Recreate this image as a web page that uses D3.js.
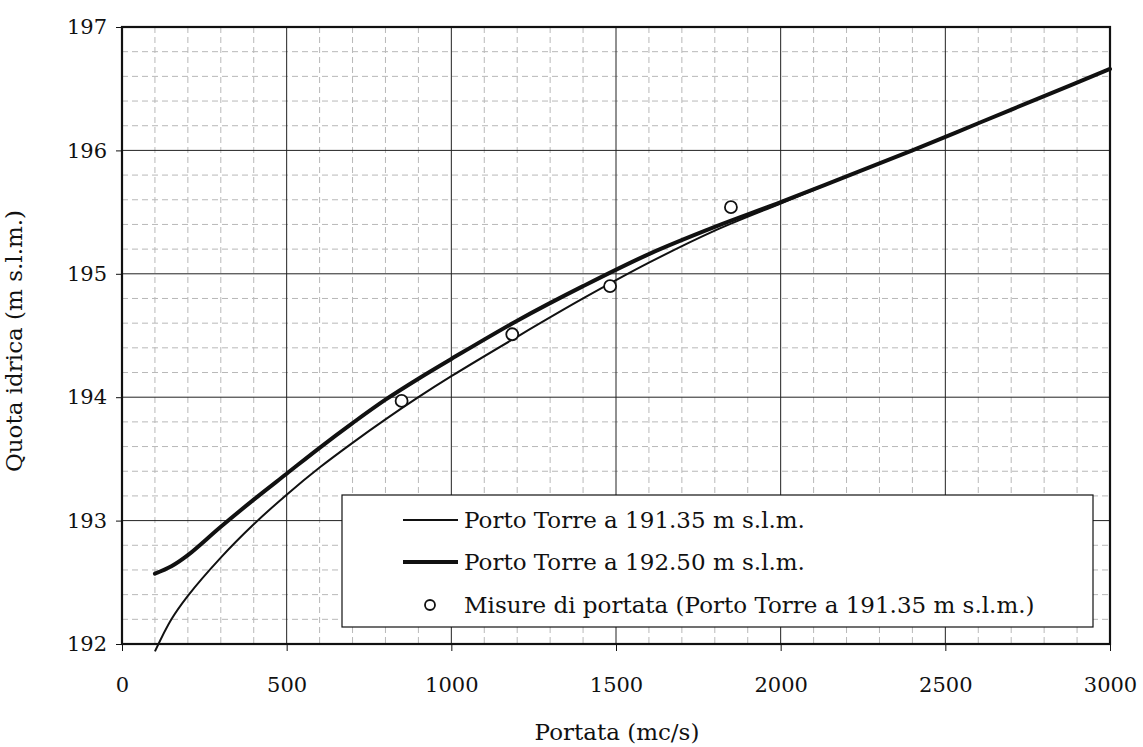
<!DOCTYPE html>
<html><head><meta charset="utf-8">
<script src="https://cdn.jsdelivr.net/npm/d3@7"></script>
<style>body{margin:0;background:#fff}svg{display:block}text{font-family:"DejaVu Serif",serif;fill:#111}</style>
</head><body><svg id="c" width="1143" height="747"></svg>
<script>
const qThin = [100,150,200,300,400,500,600,700,800,900,1000,1200,1400,1600,1800,2000,2200,2400,2600,2800,3000];
const hThin = [191.94,192.20,192.39,192.70,192.97,193.21,193.43,193.63,193.82,194.00,194.17,194.49,194.80,195.09,195.35,195.57,195.79,196.00,196.22,196.44,196.66];
const qThick = [100,150,200,300,400,500,600,700,800,900,1000,1200,1400,1600,1800,2000,2200,2400,2600,2800,3000];
const hThick = [192.57,192.63,192.72,192.95,193.17,193.38,193.59,193.79,193.98,194.15,194.31,194.62,194.90,195.16,195.38,195.58,195.79,196.00,196.22,196.44,196.66];
const qMeas = [849,1185,1482,1849];
const hMeas = [193.97,194.51,194.90,195.54];
const xTicks = [0,500,1000,1500,2000,2500,3000];
const yTicks = [192,193,194,195,196,197];
const legendLabels = ["Porto Torre a 191.35 m s.l.m.","Porto Torre a 192.50 m s.l.m.","Misure di portata (Porto Torre a 191.35 m s.l.m.)"];

const svg = d3.select("#c");
const L=122,R=1110,T=27,B=644;
const x = d3.scaleLinear().domain([0,3000]).range([L,R]);
const y = d3.scaleLinear().domain([192,197]).range([B,T]);

// minor grid
const g = svg.append("g");
g.selectAll(".mx").data(d3.range(100,3000,100).filter(v=>v%500)).join("line")
 .attr("x1",d=>x(d)).attr("x2",d=>x(d)).attr("y1",T).attr("y2",B)
 .attr("stroke","#b8b8b8").attr("stroke-width",1).attr("stroke-dasharray","6,4");
g.selectAll(".my").data(d3.range(1,25).map(i=>192+i*0.2).filter(v=>Math.abs(v-Math.round(v))>0.01)).join("line")
 .attr("y1",d=>y(d)).attr("y2",d=>y(d)).attr("x1",L).attr("x2",R)
 .attr("stroke","#b8b8b8").attr("stroke-width",1).attr("stroke-dasharray","6,4");
// major grid
g.selectAll(".Mx").data(xTicks.slice(1,-1)).join("line")
 .attr("x1",d=>x(d)).attr("x2",d=>x(d)).attr("y1",T).attr("y2",B)
 .attr("stroke","#222").attr("stroke-width",1);
g.selectAll(".My").data(yTicks.slice(1,-1)).join("line")
 .attr("y1",d=>y(d)).attr("y2",d=>y(d)).attr("x1",L).attr("x2",R)
 .attr("stroke","#222").attr("stroke-width",1);

// axes
const xa = svg.append("g").attr("transform",`translate(0,${B})`)
 .call(d3.axisBottom(x).tickValues(xTicks).tickFormat(d3.format("d")).tickSize(7).tickPadding(26));
const ya = svg.append("g").attr("transform",`translate(${L},0)`)
 .call(d3.axisLeft(y).tickValues(yTicks).tickFormat(d3.format("d")).tickSize(6).tickPadding(9));
[xa,ya].forEach(a=>{a.select(".domain").remove();a.selectAll("line").attr("stroke","#111");
 a.selectAll("text").attr("font-size",21).attr("font-family","DejaVu Serif").attr("fill","#111");});

// frame
svg.append("rect").attr("x",L).attr("y",T).attr("width",R-L).attr("height",B-T)
 .attr("fill","none").attr("stroke","#111").attr("stroke-width",2.2);

const line = d3.line().x(d=>x(d[0])).y(d=>y(d[1])).curve(d3.curveCatmullRom);
svg.append("clipPath").attr("id","cp").append("rect").attr("x",L-2).attr("y",T).attr("width",R-L+4).attr("height",B-T+12);
svg.append("path").datum(d3.zip(qThick,hThick)).attr("d",line).attr("fill","none")
 .attr("stroke","#111").attr("stroke-width",4).attr("stroke-linecap","round");
svg.append("path").datum(d3.zip(qThin,hThin)).attr("d",line).attr("fill","none")
 .attr("stroke","#111").attr("stroke-width",2).attr("clip-path","url(#cp)");
svg.selectAll(".pt").data(d3.zip(qMeas,hMeas)).join("circle")
 .attr("cx",d=>x(d[0])).attr("cy",d=>y(d[1])).attr("r",6)
 .attr("fill","#fff").attr("stroke","#111").attr("stroke-width",1.8);

// legend
const lg = svg.append("g");
lg.append("rect").attr("x",342).attr("y",495).attr("width",751).attr("height",132)
 .attr("fill","#fff").attr("stroke","#111").attr("stroke-width",1.2);
const rows=[520,562,605];
lg.append("line").attr("x1",403).attr("x2",458).attr("y1",rows[0]).attr("y2",rows[0]).attr("stroke","#111").attr("stroke-width",2);
lg.append("line").attr("x1",403).attr("x2",458).attr("y1",rows[1]).attr("y2",rows[1]).attr("stroke","#111").attr("stroke-width",4);
lg.append("circle").attr("cx",430).attr("cy",rows[2]).attr("r",5).attr("fill","#fff").attr("stroke","#111").attr("stroke-width",1.8);
lg.selectAll("text").data(legendLabels).join("text")
 .attr("x",464).attr("y",(d,i)=>rows[i]).attr("dy","0.35em").attr("font-size",23).text(d=>d);

// titles
svg.append("text").attr("x",617).attr("y",740).attr("text-anchor","middle").attr("font-size",23).text("Portata (mc/s)");
svg.append("text").attr("transform","translate(22,341) rotate(-90)").attr("text-anchor","middle").attr("font-size",23).text("Quota idrica (m s.l.m.)");
</script></body></html>
